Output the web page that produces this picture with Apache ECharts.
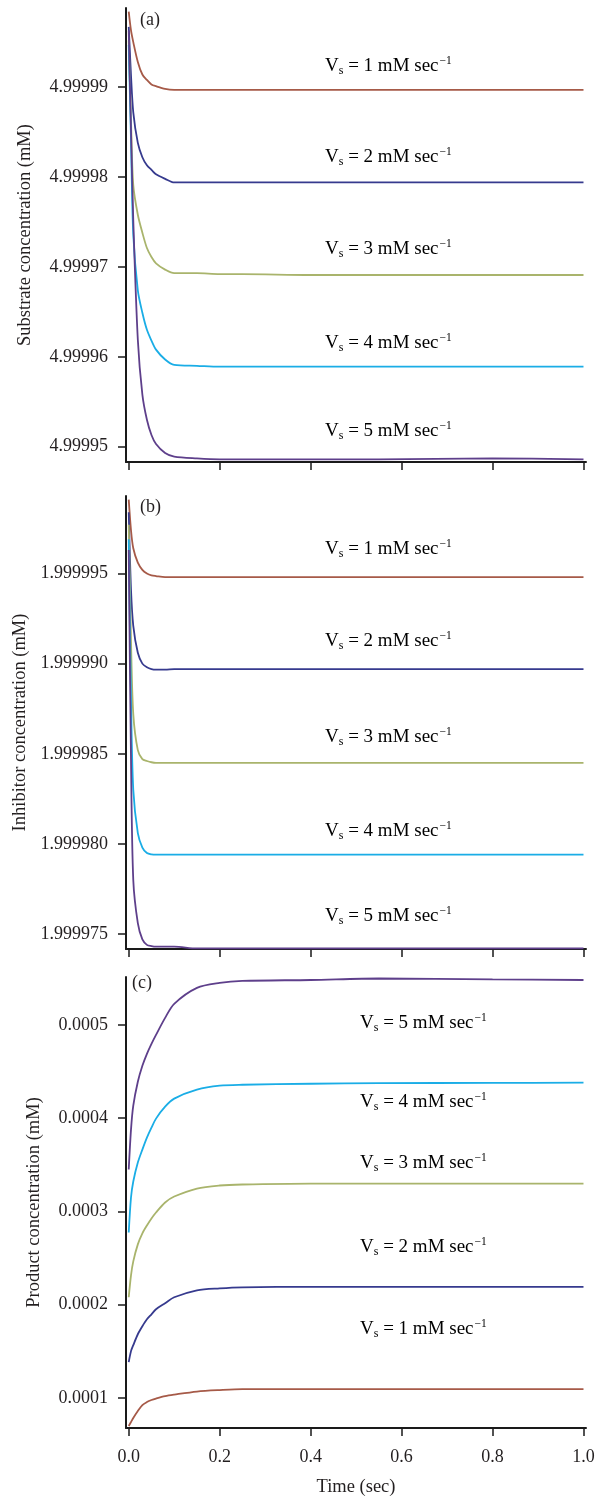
<!DOCTYPE html>
<html>
<head>
<meta charset="utf-8">
<script src="https://cdn.jsdelivr.net/npm/echarts@6/dist/echarts.min.js"></script>
<style>
html,body{margin:0;padding:0;background:#fff;}
#chart{width:603px;height:1498px;}
</style>
</head>
<body>
<div id="chart"></div>
<script>
// ---------- data ----------
const time = [0, 0.005, 0.01, 0.02, 0.03, 0.04, 0.05, 0.06, 0.08, 0.1, 0.15, 0.2, 0.25, 0.4, 0.55, 0.8, 1.0];

// (a) Substrate concentration (mM)
const substrateVs1 = [4.9999984, 4.9999963, 4.9999950, 4.9999928, 4.9999914, 4.9999908, 4.9999903, 4.9999901, 4.9999898, 4.9999897, 4.9999897, 4.9999897, 4.9999897, 4.9999897, 4.9999897, 4.9999897, 4.9999897];
const substrateVs2 = [4.9999967, 4.9999913, 4.9999872, 4.9999838, 4.9999822, 4.9999813, 4.9999808, 4.9999803, 4.9999798, 4.9999794, 4.9999794, 4.9999794, 4.9999794, 4.9999794, 4.9999794, 4.9999794, 4.9999794];
const substrateVs3 = [4.9999952, 4.9999863, 4.9999791, 4.9999758, 4.9999738, 4.9999721, 4.9999711, 4.9999704, 4.9999697, 4.9999693, 4.9999693, 4.9999692, 4.9999692, 4.9999691, 4.9999691, 4.9999691, 4.9999691];
const substrateVs4 = [4.9999947, 4.9999841, 4.9999736, 4.9999674, 4.9999649, 4.9999630, 4.9999618, 4.9999608, 4.9999597, 4.9999591, 4.9999590, 4.9999589, 4.9999589, 4.9999589, 4.9999589, 4.9999589, 4.9999589];
const substrateVs5 = [4.9999963, 4.9999852, 4.9999752, 4.9999619, 4.9999558, 4.9999530, 4.9999513, 4.9999503, 4.9999493, 4.9999489, 4.9999487, 4.9999486, 4.9999486, 4.9999486, 4.9999486, 4.9999487, 4.9999486];

// (b) Inhibitor concentration (mM)
const inhibitorVs1 = [1.9999991, 1.9999974, 1.9999964, 1.9999956, 1.9999952, 1.9999950, 1.9999949, 1.99999486, 1.9999948, 1.9999948, 1.9999948, 1.9999948, 1.9999948, 1.9999948, 1.9999948, 1.9999948, 1.9999948];
const inhibitorVs2 = [1.9999984, 1.9999941, 1.9999921, 1.9999906, 1.9999900, 1.9999898, 1.9999897, 1.99998967, 1.99998967, 1.9999897, 1.9999897, 1.9999897, 1.9999897, 1.9999897, 1.9999897, 1.9999897, 1.9999897];
const inhibitorVs3 = [1.9999977, 1.9999913, 1.9999872, 1.9999852, 1.9999847, 1.9999846, 1.99998453, 1.9999845, 1.9999845, 1.9999845, 1.9999845, 1.9999845, 1.9999845, 1.9999845, 1.9999845, 1.9999845, 1.9999845];
const inhibitorVs4 = [1.9999969, 1.9999880, 1.9999830, 1.9999806, 1.9999798, 1.9999795, 1.99997942, 1.9999794, 1.9999794, 1.9999794, 1.9999794, 1.9999794, 1.9999794, 1.9999794, 1.9999794, 1.9999794, 1.9999794];
const inhibitorVs5 = [1.9999963, 1.9999847, 1.9999780, 1.9999756, 1.9999747, 1.9999744, 1.99997433, 1.9999743, 1.9999743, 1.9999743, 1.9999742, 1.9999742, 1.9999742, 1.9999742, 1.9999742, 1.9999742, 1.9999742];

// (c) Product concentration (mM)
const productVs1 = [0.0000701, 0.0000743, 0.0000786, 0.0000861, 0.0000925, 0.0000957, 0.0000979, 0.0000995, 0.0001021, 0.0001037, 0.0001070, 0.0001086, 0.0001096, 0.0001096, 0.0001096, 0.0001096, 0.0001096];
const productVs2 = [0.0001385, 0.0001503, 0.0001567, 0.0001684, 0.0001770, 0.0001845, 0.0001898, 0.0001952, 0.0002016, 0.0002080, 0.0002155, 0.0002176, 0.0002187, 0.0002192, 0.0002192, 0.0002192, 0.0002192];
const productVs3 = [0.0002080, 0.0002316, 0.0002465, 0.0002647, 0.0002765, 0.0002850, 0.0002925, 0.0002989, 0.0003096, 0.0003160, 0.0003246, 0.0003278, 0.0003289, 0.0003299, 0.0003299, 0.0003299, 0.0003299];
const productVs4 = [0.0002775, 0.0003150, 0.0003321, 0.0003524, 0.0003663, 0.0003791, 0.0003898, 0.0003995, 0.0004123, 0.0004209, 0.0004305, 0.0004348, 0.0004358, 0.0004369, 0.0004375, 0.0004378, 0.0004380];
const productVs5 = [0.0003449, 0.0003877, 0.0004134, 0.0004390, 0.0004561, 0.0004690, 0.0004797, 0.0004893, 0.0005075, 0.0005225, 0.0005396, 0.0005449, 0.0005471, 0.0005481, 0.0005497, 0.0005487, 0.0005481];

// tick labels
const timeTicks = [0, 0.2, 0.4, 0.6, 0.8, 1.0];
const substrateTicks = [4.99995, 4.99996, 4.99997, 4.99998, 4.99999];
const inhibitorTicks = [1.999975, 1.999980, 1.999985, 1.999990, 1.999995];
const productTicks = [0.0001, 0.0002, 0.0003, 0.0004, 0.0005];
const vsRates = [1, 2, 3, 4, 5];
const panelLabels = ['(a)', '(b)', '(c)'];

// ---------- styling ----------
const FONT = '"Liberation Serif", "Times New Roman", serif';
const TXT = '#231f20';
const colors = ['#a65a48', '#363a8e', '#a9b46c', '#1aade6', '#5e3f8b'];

const grids = [
  {left: 126, top: 8, width: 460, height: 454},
  {left: 126, top: 496, width: 460, height: 453},
  {left: 126, top: 977, width: 460, height: 452}
];

function xAxisFor(i, showLabels) {
  return {
    type: 'value', gridIndex: i, min: -0.006, max: 1.0055,
    axisLine: {show: true, onZero: false, lineStyle: {color: '#1a1a1a', width: 2}},
    axisTick: {show: true, length: 8, customValues: timeTicks, lineStyle: {color: '#1a1a1a', width: 1.5}},
    axisLabel: {show: showLabels, customValues: timeTicks, margin: 20, fontFamily: FONT, fontSize: 18, color: TXT,
      formatter: v => v.toFixed(1)},
    splitLine: {show: false},
    name: showLabels ? 'Time (sec)' : '', nameLocation: 'middle', nameGap: 50,
    nameTextStyle: {fontFamily: FONT, fontSize: 18.5, color: TXT}
  };
}
function yAxisFor(i, min, max, ticks, digits, name, gap) {
  return {
    type: 'value', gridIndex: i, min: min, max: max,
    axisLine: {show: true, onZero: false, lineStyle: {color: '#1a1a1a', width: 2}},
    axisTick: {show: true, length: 8, customValues: ticks, lineStyle: {color: '#1a1a1a', width: 1.5}},
    axisLabel: {show: true, customValues: ticks, margin: 18, fontFamily: FONT, fontSize: 18, color: TXT,
      formatter: v => v.toFixed(digits)},
    splitLine: {show: false},
    name: name, nameLocation: 'middle', nameGap: gap, nameRotate: 90,
    nameTextStyle: {fontFamily: FONT, fontSize: 18.5, color: TXT}
  };
}

const panels = [
  [substrateVs1, substrateVs2, substrateVs3, substrateVs4, substrateVs5],
  [inhibitorVs1, inhibitorVs2, inhibitorVs3, inhibitorVs4, inhibitorVs5],
  [productVs1, productVs2, productVs3, productVs4, productVs5]
];

const series = [];
panels.forEach((arrs, p) => {
  arrs.forEach((arr, k) => {
    series.push({
      type: 'line', xAxisIndex: p, yAxisIndex: p,
      name: 'Vs = ' + vsRates[k],
      data: time.map((t, j) => [t, arr[j]]),
      showSymbol: false, smooth: 0.3,
      lineStyle: {color: colors[k], width: 1.8},
      itemStyle: {color: colors[k]},
      z: 2 + k,
      animation: false
    });
  });
});

// annotation text positions (pixels)
const annot = [
  {x: 325, ys: [66, 157, 249, 343, 431]},
  {x: 325, ys: [549, 641, 737, 831, 916]},
  {x: 360, ys: [1329, 1247, 1163, 1102, 1023]}
];
const graphics = [];
annot.forEach(a => {
  a.ys.forEach((y, k) => {
    graphics.push({
      type: 'text', x: a.x, y: y, z: 100,
      style: {
        text: '{v|V}{s|s}{v| = ' + vsRates[k] + ' mM sec}{p|\u22121}',
        textAlign: 'left', textVerticalAlign: 'middle',
        align: 'left', verticalAlign: 'middle',
        rich: {
          v: {fontFamily: FONT, fontSize: 19, color: TXT, lineHeight: 26, verticalAlign: 'middle'},
          s: {fontFamily: FONT, fontSize: 12, color: TXT, lineHeight: 26, verticalAlign: 'bottom', padding: [0, 0, 2, 0]},
          p: {fontFamily: FONT, fontSize: 11.5, color: TXT, lineHeight: 26, verticalAlign: 'top', padding: [2, 0, 0, 1]}
        }
      }
    });
  });
});
const panelPos = [[140, 20], [140, 507], [132, 983]];
panelLabels.forEach((t, i) => {
  graphics.push({
    type: 'text', x: panelPos[i][0], y: panelPos[i][1], z: 100,
    style: {text: t, fontFamily: FONT, fontSize: 18, fill: TXT,
      textAlign: 'left', textVerticalAlign: 'middle', align: 'left', verticalAlign: 'middle'}
  });
});

const chart = echarts.init(document.getElementById('chart'), null, {renderer: 'canvas'});
chart.setOption({
  animation: false,
  backgroundColor: '#fff',
  grid: grids,
  xAxis: [xAxisFor(0, false), xAxisFor(1, false), xAxisFor(2, true)],
  yAxis: [
    yAxisFor(0, 4.9999483, 4.9999988, substrateTicks, 5, 'Substrate concentration (mM)', 91),
    yAxisFor(1, 1.99997417, 1.9999993, inhibitorTicks, 6, 'Inhibitor concentration (mM)', 91),
    yAxisFor(2, 0.0000679, 0.0005513, productTicks, 4, 'Product concentration (mM)', 82)
  ],
  series: series,
  graphic: graphics
});
</script>
</body>
</html>
